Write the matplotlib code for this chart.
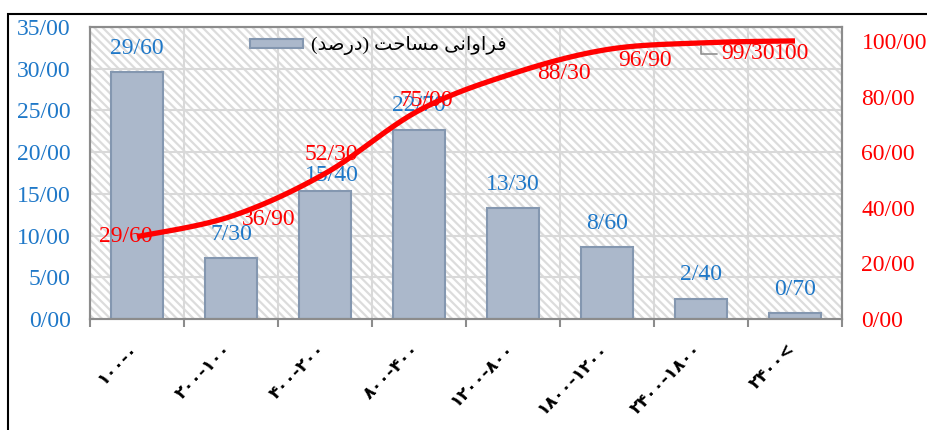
import numpy as np
import matplotlib
matplotlib.use("Agg")
import matplotlib.pyplot as plt
from matplotlib.patches import Rectangle

# ---- data ----
categories = ["\u06f1\u06f0\u06f0-\u06f0",
              "\u06f2\u06f0\u06f0-\u06f1\u06f0\u06f0",
              "\u06f4\u06f0\u06f0-\u06f2\u06f0\u06f0",
              "\u06f8\u06f0\u06f0-\u06f4\u06f0\u06f0",
              "\u06f1\u06f2\u06f0\u06f0-\u06f8\u06f0\u06f0",
              "\u06f1\u06f8\u06f0\u06f0-\u06f1\u06f2\u06f0\u06f0",
              "\u06f2\u06f4\u06f0\u06f0-\u06f1\u06f8\u06f0\u06f0",
              "\u06f2\u06f4\u06f0\u06f0<"]
freq = [29.6, 7.3, 15.4, 22.7, 13.3, 8.6, 2.4, 0.7]
freq_labels = ["29/60", "7/30", "15/40", "22/70", "13/30", "8/60", "2/40", "0/70"]
cum = [29.6, 36.9, 52.3, 75.0, 88.3, 96.9, 99.3, 100.0]
cum_labels = ["29/60", "36/90", "52/30", "75/00", "88/30", "96/90", "99/30", "100"]
left_ticks = [0, 5, 10, 15, 20, 25, 30, 35]
left_ticklabels = ["0/00", "5/00", "10/00", "15/00", "20/00", "25/00", "30/00", "35/00"]
right_ticks = [0, 20, 40, 60, 80, 100]
right_ticklabels = ["0/00", "20/00", "40/00", "60/00", "80/00", "100/00"]
# legend text (Persian, pre-shaped visual order): "فراوانی مساحت (درصد)"
legend_text = ("(\ufeaa\ufebb\ufead\ufea9) "
               "\ufe96\ufea3\ufe8e\ufeb4\ufee3 "
               "\ufbfd\ufee7\ufe8d\ufeed\ufe8d\ufeae\ufed3")

# ---- style ----
SERIF = ["Liberation Serif", "DejaVu Serif"]
BLUE = "#1F78C8"
RED = "#FF0000"
GRID = "#D9D9D9"
AXC = "#8C8C8C"
FS = 17

plt.rcParams["hatch.linewidth"] = 1.6

fig = plt.figure(figsize=(9.28, 4.30), dpi=100)
W, H = 928, 430
ax = fig.add_axes([90 / W, 1 - 319 / H, (842 - 90) / W, (319 - 27) / H])
ax2 = ax.twinx()

x = np.arange(len(freq))

# background hatch
bg = Rectangle((0, 0), 1, 1, transform=ax.transAxes, facecolor="white",
               edgecolor="#DCDCDC", hatch="\\\\\\\\", lw=0, zorder=0)
ax.add_patch(bg)

ax.set_xlim(-0.5, len(freq) - 0.5)
ax.set_ylim(0, 35)
ax2.set_ylim(0, 105)

# grid
for yv in left_ticks[1:]:
    ax.axhline(yv, color=GRID, lw=1.5, zorder=1)
for xv in np.arange(0.5, len(freq) - 0.5, 1):
    ax.axvline(xv, color=GRID, lw=1.5, zorder=1)

bars = ax.bar(x, freq, width=0.56, color="#ABB8CB", edgecolor="#8497B0",
              lw=1.5, zorder=2, label=legend_text)

bar_adj = [(0, 0), (0, 0), (7, -9), (0, 0), (0, 0), (0, 0), (0, 0), (0, 0)]
for xi, v, lab, (dx, dy) in zip(x, freq, freq_labels, bar_adj):
    ax.annotate(lab, (xi, v), xytext=(dx, 24 + dy), textcoords="offset pixels",
                ha="center", va="center", color=BLUE, fontsize=FS,
                family=SERIF, zorder=3)

# smooth line (Excel-style smoothing, Catmull-Rom Bezier)
def smooth(xs, ys, n=40):
    P = np.column_stack([xs, ys]).astype(float)
    P = np.vstack([P[0], P, P[-1]])
    out = []
    t = np.linspace(0, 1, n)
    for i in range(1, len(P) - 2):
        p0, p1, p2, p3 = P[i - 1], P[i], P[i + 1], P[i + 2]
        c1 = p1 + (p2 - p0) / 6
        c2 = p2 - (p3 - p1) / 6
        seg = ((1 - t) ** 3)[:, None] * p1 + (3 * (1 - t) ** 2 * t)[:, None] * c1 \
            + (3 * (1 - t) * t ** 2)[:, None] * c2 + (t ** 3)[:, None] * p2
        out.append(seg if i == 1 else seg[1:])
    S = np.vstack(out)
    return S[:, 0], S[:, 1]

sx, sy = smooth(x, cum)
ax2.plot(sx, sy, color=RED, lw=3.8, solid_capstyle="butt", zorder=3)

cum_off = [(-11, 0), (38, -3), (6, 19), (7, 10), (51, 0), (38, -11), (47, -11), (-3, -13)]
for i, (xi, v, lab, (dx, dy)) in enumerate(zip(x, cum, cum_labels, cum_off)):
    kw = {}
    if i == 6:
        kw["arrowprops"] = dict(arrowstyle="-", color="#909090", lw=1.2,
                                connectionstyle="angle,angleA=0,angleB=90,rad=0",
                                shrinkA=1, shrinkB=2)
    ax2.annotate(lab, (xi, v), xytext=(dx, dy), textcoords="offset pixels",
                 ha="center", va="center", color=RED, fontsize=FS,
                 family=SERIF, zorder=4, **kw)

# axes styling
for a in (ax, ax2):
    for s in a.spines.values():
        s.set_color(AXC)
        s.set_linewidth(1.5)

ax.set_yticks(left_ticks)
ax.set_yticklabels(left_ticklabels, color=BLUE, fontsize=FS, family=SERIF)
ax.tick_params(axis="y", length=0, pad=14)
ax2.set_yticks(right_ticks)
ax2.set_yticklabels(right_ticklabels, color=RED, fontsize=FS, family=SERIF)
ax2.tick_params(axis="y", length=0, pad=14)

ax.set_xticks(np.arange(-0.5, len(freq), 1))
ax.set_xticklabels([])
ax.tick_params(axis="x", length=6, width=1.5, color=AXC, direction="out")

for xi, lab in zip(x, categories):
    ax.annotate(lab, (xi, 0), xytext=(-2, -27), textcoords="offset pixels",
                rotation=45, rotation_mode="anchor", ha="right", va="center",
                fontsize=12.5, fontweight="bold", color="black",
                family=["DejaVu Sans"], annotation_clip=False)

leg = ax.legend(loc="center left", bbox_to_anchor=(0.203, 0.935),
                frameon=False, handlelength=2.7, handleheight=0.38,
                handletextpad=0.4, borderaxespad=0,
                prop={"family": ["Liberation Serif", "DejaVu Sans"], "size": 14})

# outer chart border
fig.add_artist(Rectangle((8 / W, -0.1), 1.2, 1 - 14 / H + 0.1,
                         transform=fig.transFigure, fill=False,
                         edgecolor="black", lw=1.5))

fig.savefig("out.png", dpi=100)
